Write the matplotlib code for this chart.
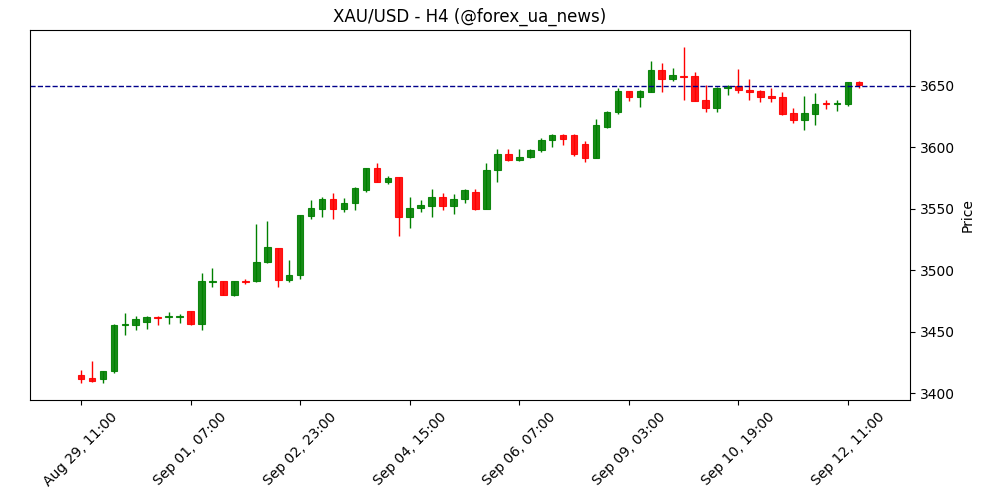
import matplotlib
matplotlib.use("Agg")
import matplotlib.pyplot as plt
import numpy as np

opens = [3415, 3412, 3411, 3418, 3455, 3455, 3458, 3462, 3462, 3462,
         3467, 3456, 3490, 3491, 3480, 3491, 3491, 3507, 3518, 3492,
         3496, 3544, 3550, 3558, 3550, 3555, 3565, 3583, 3572, 3576,
         3543, 3551, 3552, 3560, 3552, 3558, 3564, 3550, 3582, 3595,
         3590, 3592, 3598, 3606, 3610, 3610, 3603, 3591, 3617, 3629,
         3646, 3641, 3645, 3663, 3656, 3658, 3658, 3639, 3632, 3648,
         3650, 3647, 3646, 3642, 3641, 3628, 3622, 3627, 3636, 3635,
         3635, 3653]
closes = [3411, 3410, 3418, 3455, 3456, 3460, 3462, 3461, 3463, 3463,
          3456, 3491, 3491, 3480, 3491, 3490, 3507, 3519, 3492, 3496,
          3545, 3551, 3558, 3550, 3555, 3567, 3583, 3572, 3575, 3543,
          3551, 3553, 3560, 3552, 3558, 3565, 3550, 3582, 3595, 3590,
          3592, 3598, 3606, 3610, 3607, 3595, 3591, 3618, 3629, 3646,
          3641, 3646, 3663, 3656, 3659, 3657, 3638, 3632, 3648, 3650,
          3647, 3645, 3641, 3640, 3627, 3622, 3628, 3635, 3635, 3636,
          3653, 3651]
highs = [3419, 3426, 3418, 3456, 3465, 3463, 3463, 3463, 3466, 3464,
         3467, 3498, 3502, 3491, 3491, 3493, 3538, 3540, 3518, 3508,
         3545, 3557, 3560, 3563, 3559, 3568, 3583, 3587, 3577, 3576,
         3560, 3557, 3566, 3563, 3562, 3566, 3566, 3587, 3599, 3599,
         3599, 3599, 3608, 3611, 3611, 3611, 3605, 3623, 3630, 3648,
         3646, 3647, 3670, 3669, 3665, 3682, 3661, 3651, 3649, 3651,
         3664, 3656, 3647, 3648, 3645, 3632, 3642, 3644, 3639, 3639,
         3653, 3654]
lows = [3408, 3409, 3408, 3416, 3447, 3451, 3452, 3455, 3456, 3457,
        3455, 3451, 3486, 3480, 3479, 3489, 3490, 3506, 3486, 3490,
        3493, 3542, 3543, 3542, 3547, 3549, 3564, 3572, 3570, 3528,
        3534, 3547, 3543, 3549, 3546, 3555, 3549, 3550, 3572, 3589,
        3589, 3591, 3596, 3600, 3602, 3593, 3588, 3591, 3616, 3627,
        3638, 3633, 3645, 3645, 3654, 3639, 3638, 3629, 3629, 3643,
        3644, 3639, 3637, 3637, 3626, 3620, 3614, 3618, 3631, 3630,
        3634, 3648]
tick_labels = ["Aug 29, 11:00", "Sep 01, 07:00", "Sep 02, 23:00", "Sep 04, 15:00",
               "Sep 06, 07:00", "Sep 09, 03:00", "Sep 10, 19:00", "Sep 12, 11:00"]
level = 3650

fig = plt.figure(figsize=(10, 5), dpi=100)
ax = fig.add_axes([0.03, 0.2, 0.88, 0.74])

x = np.arange(len(opens))
for i in x:
    o, c, h, l = opens[i], closes[i], highs[i], lows[i]
    col = "green" if c >= o else "red"
    ax.vlines(i, l, h, color=col, linewidth=1)
    ax.bar(i, abs(c - o) if c != o else 0.6, bottom=min(o, c), width=0.6,
           color=col, edgecolor=col, linewidth=0.8, alpha=0.9)

ax.axhline(level, color="darkblue", linestyle="--", linewidth=1)
ax.set_xticks(np.arange(0, len(opens), 10))
ax.set_xticklabels(tick_labels, rotation=45, ha="center")
ax.set_xlim(-4.65, 75.65)
ax.set_ylim(3394.3, 3695.6)
ax.yaxis.tick_right()
ax.yaxis.set_label_position("right")
ax.set_ylabel("Price")
ax.set_title("XAU/USD - H4 (@forex_ua_news)")

fig.savefig("out.png", dpi=100)
